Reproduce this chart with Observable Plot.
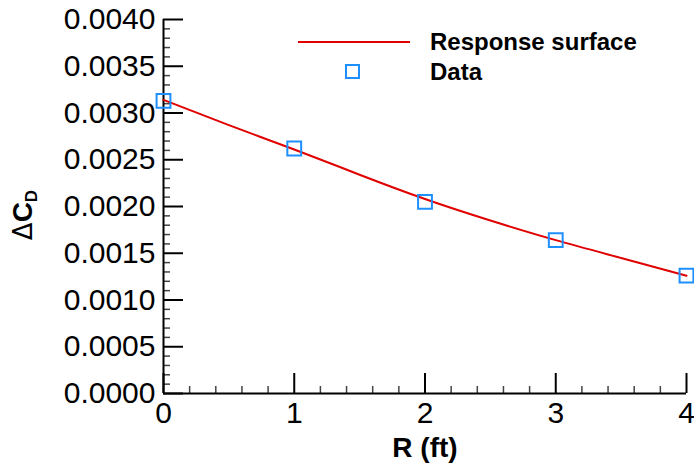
<!DOCTYPE html>
<html><head><meta charset="utf-8">
<script src="https://cdn.jsdelivr.net/npm/d3@7"></script>
<script src="https://cdn.jsdelivr.net/npm/@observablehq/plot@0.6"></script>
<style>
body{margin:0;background:#fff;font-family:"Liberation Sans",Arial,sans-serif}
#wrap{position:relative;width:694px;height:470px}
#ylab{position:absolute;left:24px;top:215px;transform:translate(-50%,-50%) rotate(-90deg);font-weight:bold;font-size:28px;white-space:nowrap;color:#000}
#ylab .d{font-weight:normal;font-family:"DejaVu Sans",sans-serif;font-size:26px}
#ylab sub{font-size:17px;vertical-align:-5px}
.leg{position:absolute;font-weight:bold;font-size:24px;color:#000;line-height:1}
</style></head><body><div id="wrap"></div>
<script>
const dataR = [0, 1, 2, 3, 4];
const dataDCD = [0.00313, 0.00262, 0.00205, 0.00164, 0.00126];
const fitR = [0, 0.5, 1, 1.5, 2, 2.5, 3, 3.5, 4];
const fitDCD = [0.00314, 0.00287, 0.00261, 0.00234, 0.00208, 0.00185, 0.00164, 0.00145, 0.00126];
const xMajor = [0, 1, 2, 3, 4];
const xMinor = [0.2,0.4,0.6,0.8,1.2,1.4,1.6,1.8,2.2,2.4,2.6,2.8,3.2,3.4,3.6,3.8];
const yMajor = [0, 0.0005, 0.001, 0.0015, 0.002, 0.0025, 0.003, 0.0035, 0.004];
const yMinor = [0.0001,0.0002,0.0003,0.0004,0.0006,0.0007,0.0008,0.0009,0.0011,0.0012,0.0013,0.0014,0.0016,0.0017,0.0018,0.0019,0.0021,0.0022,0.0023,0.0024,0.0026,0.0027,0.0028,0.0029,0.0031,0.0032,0.0033,0.0034,0.0036,0.0037,0.0038,0.0039];
const seriesNames = ["Response surface", "Data"];

const W = 694, H = 470, mL = 163, mR = 8, mT = 19, mB = 77;
const pw = W - mL - mR, ph = H - mT - mB;
const dataPts = dataR.map((r, i) => ({r, v: dataDCD[i]}));
const fitPts = fitR.map((r, i) => ({r, v: fitDCD[i]}));

const chart = Plot.plot({
  width: W, height: H,
  marginLeft: mL, marginRight: mR, marginTop: mT, marginBottom: mB,
  style: {fontFamily: "Liberation Sans, Arial, sans-serif", color: "#000", background: "#fff"},
  x: {domain: [0, 4]},
  y: {domain: [0, 0.004]},
  marks: [
    Plot.axisY({ticks: yMajor, tickSize: 0, tickPadding: 8, fontSize: 30, tickFormat: d3.format(".4f"), label: null}),
    Plot.axisX({ticks: xMajor, tickSize: 0, tickPadding: 8, fontSize: 30, tickFormat: d3.format("d"), label: null}),
    Plot.tickY(yMinor, {y: d => d, insetRight: pw - 7, stroke: "#444", strokeWidth: 1.5}),
    Plot.tickY(yMajor, {y: d => d, insetRight: pw - 20, stroke: "#000", strokeWidth: 2}),
    Plot.tickX(xMinor, {x: d => d, insetTop: ph - 7, stroke: "#444", strokeWidth: 1.5}),
    Plot.tickX(xMajor, {x: d => d, insetTop: ph - 20, stroke: "#000", strokeWidth: 2}),
    Plot.ruleX([0], {stroke: "#000", strokeWidth: 2}),
    Plot.ruleY([0], {stroke: "#000", strokeWidth: 2}),
    Plot.line(fitPts, {x: "r", y: "v", stroke: "#e00000", strokeWidth: 2, curve: "natural"}),
    Plot.dot(dataPts, {x: "r", y: "v", symbol: "square", r: 7.8, stroke: "#1e8fff", strokeWidth: 2, fill: "none"}),
    Plot.text(["R (ft)"], {frameAnchor: "bottom", dy: 63, fontWeight: "bold", fontSize: 28, fill: "#000"})
  ]
});
const wrap = document.getElementById("wrap");
wrap.appendChild(chart);

const yl = document.createElement("div");
yl.id = "ylab";
yl.innerHTML = "<span class='d'>\u0394</span>C<sub>D</sub>";
wrap.appendChild(yl);

// legend
const leg = document.createElementNS("http://www.w3.org/2000/svg", "svg");
leg.setAttribute("width", W); leg.setAttribute("height", H);
leg.style.position = "absolute"; leg.style.left = "0"; leg.style.top = "0"; leg.style.pointerEvents = "none";
leg.innerHTML = `<line x1="298" x2="410" y1="42" y2="42" stroke="#e00000" stroke-width="2"/>
<rect x="346" y="65" width="13" height="13" fill="none" stroke="#1e8fff" stroke-width="2"/>`;
wrap.appendChild(leg);
seriesNames.forEach((n, i) => {
  const t = document.createElement("div");
  t.className = "leg"; t.textContent = n;
  t.style.left = "430px"; t.style.top = (30 + i * 30) + "px";
  wrap.appendChild(t);
});
</script></body></html>
